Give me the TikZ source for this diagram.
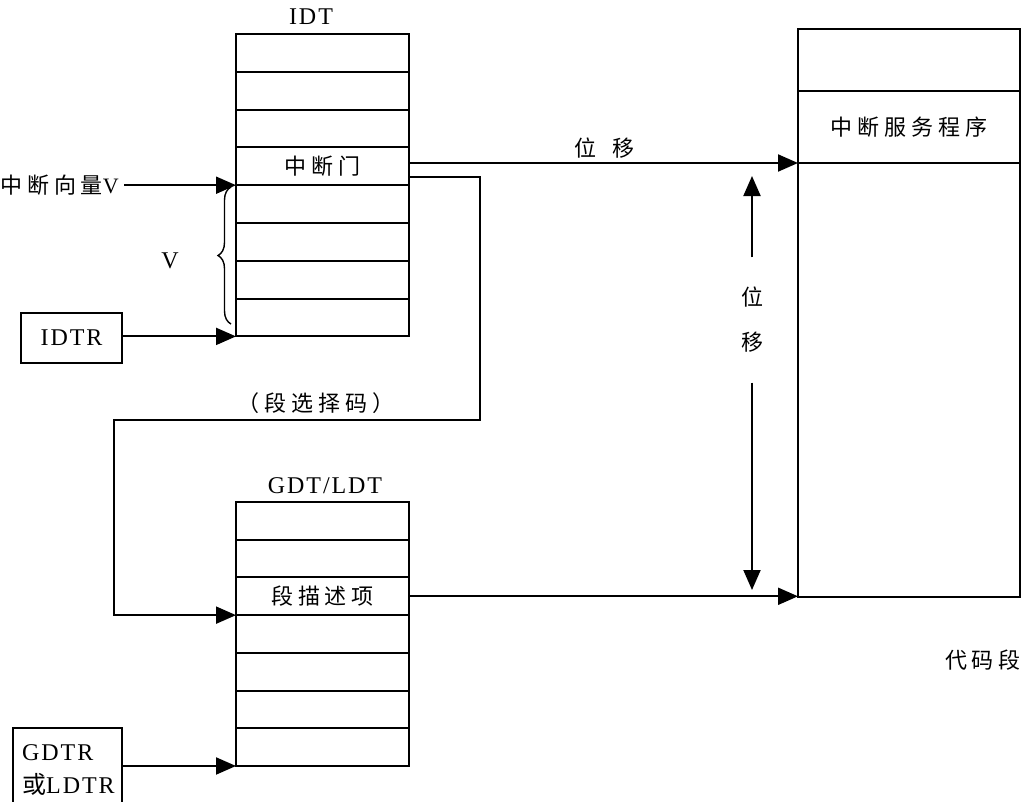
\documentclass[tikz,border=0pt]{standalone}
\usepackage{fontspec}
\setmainfont{Liberation Serif}
\newfontfamily\cjk[LetterSpace=22]{Noto Sans CJK SC}
\newfontfamily\lat[LetterSpace=8]{Liberation Serif}
\usetikzlibrary{arrows.meta,decorations.pathreplacing,calc}
\begin{document}
\begin{tikzpicture}[x=1pt,y=-1pt,
  cell/.style={draw,line width=2pt,minimum width=173pt,minimum height=37.8pt,inner sep=0pt,outer sep=0pt,anchor=north west},
  gcell/.style={cell,minimum height=37.71pt},
  csbox/.style={draw,line width=2pt,minimum width=222pt,inner sep=0pt,outer sep=0pt,anchor=north west},
  regbox/.style={draw,line width=2pt,inner sep=0pt,outer sep=0pt,anchor=north west},
  arr/.style={line width=2pt,-{Triangle[length=20pt,width=17pt]}},
  zh/.style={font=\fontsize{22}{26}\selectfont\cjk,inner sep=0pt},
  en/.style={font=\fontsize{24}{28}\selectfont\lat,inner sep=0pt},
]
\clip (0,0) rectangle (1025,801);
% IDT
\node[en] (idtlabel) at (311,17) {IDT};
\foreach \i in {1,...,8} \node[cell] (idt\i) at (236,{34+(\i-1)*37.8}) {};
\node[zh] (gate) at (idt4.center) {中断门};
% GDT/LDT
\node[en] (gdtlabel) at (325,486) {GDT/LDT};
\foreach \i in {1,...,7} \node[gcell] (gdt\i) at (236,{502+(\i-1)*37.71}) {};
\node[zh] (segdesc) at (gdt3.center) {段描述项};
% code segment
\node[csbox,minimum height=62pt] (cs1) at (798,29) {};
\node[csbox,minimum height=72pt] (cs2) at (798,91) {};
\node[csbox,minimum height=434pt] (cs3) at (798,163) {};
\node[zh] (isr) at (cs2.center) {中断服务程序};
\node[zh] (codeseg) at (983,660) {代码段};
% registers
\node[regbox,minimum width=101pt,minimum height=50pt] (idtr) at (21,313) {};
\node[en] (idtrtxt) at (idtr.center) {IDTR};
\node[regbox,minimum width=109pt,minimum height=80pt] (gdtr) at (13,728) {};
\node[en,align=left,anchor=north west,font=\fontsize{24}{33}\selectfont\lat] (gdtrtxt) at (22,744) {GDTR\\{\cjk 或}LDTR};
% interrupt vector
\node[zh,anchor=east,inner xsep=5pt] (vec) at (124,185) {中断向量\lat V};
\node[en] (vlabel) at (170,261) {V};
\draw[line width=1.4pt,decorate,decoration={brace,amplitude=13pt}] (231,324) -- (231,187);
% labels of displacement
\node[zh] (hdisp) at (604,148) {位\hspace{16pt}移};
\node[zh,align=center,minimum height=125pt,font=\fontsize{22}{45}\selectfont\cjk] (vdisp) at (752,320) {位\\移};
\coordinate (vtop) at (752,176);
\coordinate (vbot) at (752,590);
\coordinate (bend1) at (480,420);
\coordinate (bend2) at (114,420);
\node[zh] (selector) at (316,403) {（段选择码）};
% connectors
\draw[arr] (vec.east |- idt4.south west) -- (idt4.south west);
\draw[arr] (idtr.east |- idt8.south west) -- (idt8.south west);
\draw[arr] (idt4.east |- cs2.south west) -- (cs2.south west);
\draw[arr] ($(idt4.east)+(0,11)$) -| (bend1) -- (bend2) |- (gdt3.south west);
\draw[arr] (gdt3.east) -- (gdt3.east -| cs3.west);
\draw[arr] (gdtr.east |- gdt7.south west) -- (gdt7.south west);
\draw[arr] (vdisp.north) -- (vtop);
\draw[arr] (vdisp.south) -- (vbot);
\end{tikzpicture}
\end{document}
